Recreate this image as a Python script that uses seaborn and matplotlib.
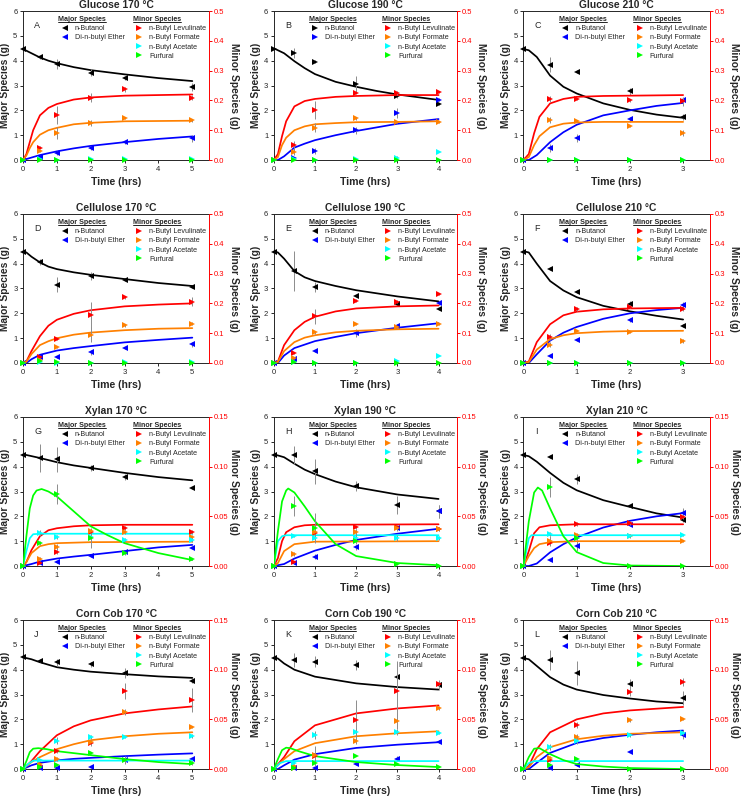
import matplotlib
matplotlib.use("Agg")
import matplotlib.pyplot as plt
from matplotlib.lines import Line2D
from matplotlib.ticker import FormatStrFormatter
import seaborn as sns

# sampling times of the experiments
T5 = [0, 0.5, 1, 2, 3, 5]
T4 = [0, 0.5, 1, 2, 3, 4]
T3 = [0, 0.5, 1, 2, 3]

species = ["bu", "eth", "lev", "form", "ace", "fur"]
names = {"bu": "n-Butanol", "eth": "Di-n-butyl Ether", "lev": "n-Butyl Levulinate",
         "form": "n-Butyl Formate", "ace": "n-Butyl Acetate", "fur": "Furfural"}
colors = {"bu": "black", "eth": "#0000ff", "lev": "#ff0000", "form": "#ff8000",
          "ace": "#00ffff", "fur": "#00ff00"}

# ---- Glucose 170
A_pts = {"bu": [4.47, 4.13, 3.85, 3.52, 3.29, 2.95], "eth": [0, 0.13, 0.3, 0.47, 0.71, 0.87],
         "lev": [0, 0.041, 0.15, 0.209, 0.237, 0.209], "form": [0, 0.03, 0.092, 0.125, 0.142, 0.133],
         "ace": [0, 0.002, 0.001, 0.002, 0.003, 0.002], "fur": [0, 0, 0, 0, 0, 0]}
A_err = {"bu": [0, 0.05, 0.2, 0.15, 0.05, 0.15], "eth": [0, 0.03, 0.08, 0.07, 0.05, 0.15],
         "lev": [0, 0.005, 0.03, 0.015, 0.008, 0.008], "form": [0, 0.004, 0.02, 0.01, 0.004, 0.004]}
A_fit = {"bu": ([0, 0.25, 0.5, 0.75, 1, 1.5, 2, 3, 4, 5], [4.47, 4.3, 4.13, 4.0, 3.9, 3.74, 3.62, 3.45, 3.3, 3.18]),
         "eth": ([0, 0.25, 0.5, 1, 1.5, 2, 3, 4, 5], [0, 0.1, 0.2, 0.35, 0.47, 0.57, 0.72, 0.85, 0.95]),
         "lev": ([0, 0.1, 0.2, 0.3, 0.5, 0.75, 1, 1.5, 2, 3, 5], [0, 0.02, 0.06, 0.1, 0.15, 0.175, 0.188, 0.203, 0.21, 0.216, 0.22]),
         "form": ([0, 0.1, 0.2, 0.3, 0.5, 0.75, 1, 1.5, 2, 3, 5], [0, 0.015, 0.04, 0.06, 0.085, 0.1, 0.108, 0.12, 0.125, 0.13, 0.132])}

# ---- Glucose 190
B_pts = {"bu": [4.47, 4.3, 3.96, 3.05, 2.58, 2.26], "eth": [0, 0.07, 0.38, 1.2, 1.88, 2.43],
         "lev": [0, 0.049, 0.168, 0.226, 0.224, 0.229], "form": [0, 0.026, 0.108, 0.14, 0.128, 0.126],
         "ace": [0, 0.002, 0, 0.003, 0.007, 0.026], "fur": [0, 0, 0, 0, 0, 0]}
B_err = {"bu": [0, 0.2, 0.07, 0.35, 0.1, 0.05], "eth": [0, 0.03, 0.12, 0.15, 0.2, 0.05],
         "lev": [0, 0.015, 0.03, 0.006, 0.006, 0.004], "form": [0, 0.01, 0.015, 0.006, 0.004, 0.003],
         "ace": [0, 0, 0, 0, 0.006, 0]}
B_fit = {"bu": ([0, 0.25, 0.5, 0.75, 1, 1.5, 2, 2.5, 3, 4], [4.5, 4.3, 3.98, 3.7, 3.46, 3.15, 2.95, 2.78, 2.64, 2.42]),
         "eth": ([0, 0.1, 0.25, 0.5, 0.75, 1, 1.5, 2, 3, 4], [0, 0, 0.15, 0.5, 0.66, 0.8, 1.0, 1.17, 1.46, 1.65]),
         "lev": ([0, 0.1, 0.2, 0.3, 0.5, 0.75, 1, 1.5, 2, 3, 4], [0, 0.02, 0.08, 0.13, 0.18, 0.198, 0.205, 0.212, 0.215, 0.218, 0.218]),
         "form": ([0, 0.1, 0.2, 0.3, 0.5, 0.75, 1, 1.5, 2, 3, 4], [0, 0.01, 0.05, 0.075, 0.1, 0.113, 0.12, 0.124, 0.127, 0.128, 0.13])}

# ---- Glucose 210
C_pts = {"bu": [4.47, 3.83, 3.56, 2.77, 1.72], "eth": [0, 0.48, 0.89, 1.65, 2.4],
         "lev": [0, 0.205, 0.205, 0.2, 0.198], "form": [0, 0.133, 0.13, 0.114, 0.09],
         "ace": [0, 0, 0, 0, 0], "fur": [0, 0, 0, 0, 0]}
C_err = {"bu": [0.05, 0.3, 0.05, 0.15, 0.12], "eth": [0, 0.15, 0.15, 0.1, 0.05],
         "lev": [0, 0.01, 0.004, 0.004, 0.015], "form": [0, 0.01, 0.004, 0.004, 0.01]}
C_fit = {"bu": ([0, 0.1, 0.25, 0.5, 0.75, 1, 1.5, 2, 2.5, 3], [4.47, 4.42, 4.15, 3.4, 2.95, 2.68, 2.28, 2.02, 1.83, 1.7]),
         "eth": ([0, 0.1, 0.25, 0.5, 0.75, 1, 1.5, 2, 2.5, 3], [0, 0, 0.2, 0.72, 1.12, 1.42, 1.8, 2.0, 2.18, 2.3]),
         "lev": ([0, 0.1, 0.2, 0.3, 0.5, 0.75, 1, 1.5, 2, 3], [0, 0.02, 0.09, 0.145, 0.19, 0.205, 0.212, 0.215, 0.216, 0.218]),
         "form": ([0, 0.1, 0.2, 0.3, 0.5, 0.75, 1, 1.5, 2, 3], [0, 0.01, 0.05, 0.08, 0.11, 0.122, 0.126, 0.128, 0.128, 0.128])}

# ---- Cellulose 170
D_pts = {"bu": [4.47, 4.06, 3.15, 3.51, 3.36, 3.05], "eth": [0, 0.23, 0.23, 0.44, 0.6, 0.75],
         "lev": [0, 0.021, 0.081, 0.16, 0.221, 0.206], "form": [0, 0.011, 0.054, 0.095, 0.126, 0.132],
         "ace": [0, 0.002, 0.001, 0.001, 0.002, 0.002], "fur": [0, 0.005, 0.002, 0.001, 0, 0]}
D_err = {"bu": [0.05, 0.13, 0.3, 0.15, 0.05, 0.05], "eth": [0, 0.03, 0.04, 0.1, 0.03, 0.1],
         "lev": [0, 0.003, 0.004, 0.045, 0.005, 0.015], "form": [0, 0.002, 0.003, 0.025, 0.004, 0.004]}
D_fit = {"bu": ([0, 0.1, 0.25, 0.5, 0.75, 1, 1.5, 2, 3, 4, 5], [4.5, 4.45, 4.28, 4.05, 3.88, 3.78, 3.65, 3.55, 3.38, 3.22, 3.1]),
         "eth": ([0, 0.1, 0.25, 0.5, 1, 1.5, 2, 3, 4, 5], [0, 0, 0.15, 0.33, 0.5, 0.6, 0.68, 0.83, 0.93, 1.02]),
         "lev": ([0, 0.1, 0.25, 0.5, 0.75, 1, 1.5, 2, 3, 4, 5], [0, 0.005, 0.04, 0.09, 0.125, 0.145, 0.165, 0.177, 0.19, 0.196, 0.2]),
         "form": ([0, 0.1, 0.25, 0.5, 0.75, 1, 1.5, 2, 3, 4, 5], [0, 0.004, 0.03, 0.06, 0.073, 0.083, 0.095, 0.102, 0.11, 0.115, 0.117])}

# ---- Cellulose 190
E_pts = {"bu": [4.47, 3.7, 3.07, 2.69, 2.38, 2.18], "eth": [0, 0.17, 0.47, 1.2, 1.5, 2.4],
         "lev": [0, 0.033, 0.157, 0.209, 0.206, 0.232], "form": [0, 0.016, 0.103, 0.13, 0.12, 0.13],
         "ace": [0, 0.003, 0, 0.001, 0.006, 0.022], "fur": [0, 0.002, 0, 0, 0, 0]}
E_err = {"bu": [0.05, 0.82, 0.2, 0.05, 0.05, 0.05], "eth": [0, 0.03, 0.04, 0.15, 0.05, 0.05],
         "lev": [0, 0.004, 0.025, 0.005, 0.005, 0.004], "form": [0, 0.003, 0.005, 0.003, 0.003, 0.003]}
E_fit = {"bu": ([0, 0.1, 0.25, 0.5, 0.75, 1, 1.5, 2, 3, 4], [4.5, 4.45, 4.2, 3.7, 3.45, 3.3, 3.1, 2.93, 2.68, 2.48]),
         "eth": ([0, 0.1, 0.25, 0.5, 1, 1.5, 2, 3, 4], [0, 0, 0.3, 0.6, 0.88, 1.05, 1.2, 1.42, 1.6]),
         "lev": ([0, 0.1, 0.25, 0.5, 0.75, 1, 1.5, 2, 3, 4], [0, 0.005, 0.06, 0.11, 0.138, 0.155, 0.173, 0.183, 0.19, 0.193]),
         "form": ([0, 0.1, 0.25, 0.5, 0.75, 1, 1.5, 2, 3, 4], [0, 0.003, 0.04, 0.07, 0.085, 0.093, 0.103, 0.108, 0.113, 0.115])}

# ---- Cellulose 210
F_pts = {"bu": [4.47, 3.8, 2.87, 2.36, 1.5], "eth": [0, 0.27, 0.92, 1.73, 2.35],
         "lev": [0, 0.088, 0.181, 0.189, 0.182], "form": [0, 0.061, 0.109, 0.105, 0.073],
         "ace": [0, 0, 0, 0, 0], "fur": [0, 0, 0, 0, 0]}
F_err = {"bu": [0.05, 0.07, 0.06, 0.12, 0.06], "eth": [0, 0.02, 0.04, 0.07, 0.12],
         "lev": [0, 0.01, 0.008, 0.006, 0.006], "form": [0, 0.008, 0.003, 0.003, 0.006]}
F_fit = {"bu": ([0, 0.1, 0.25, 0.5, 0.75, 1, 1.5, 2, 2.5, 3], [4.5, 4.45, 4.0, 3.3, 2.92, 2.65, 2.3, 2.08, 1.9, 1.75]),
         "eth": ([0, 0.1, 0.25, 0.5, 0.75, 1, 1.5, 2, 2.5, 3], [0, 0, 0.35, 0.9, 1.22, 1.45, 1.78, 2.0, 2.13, 2.22]),
         "lev": ([0, 0.1, 0.25, 0.5, 0.75, 1, 1.5, 2, 3], [0, 0.005, 0.07, 0.13, 0.16, 0.172, 0.18, 0.183, 0.185]),
         "form": ([0, 0.1, 0.25, 0.5, 0.75, 1, 1.5, 2, 3], [0, 0.003, 0.045, 0.08, 0.093, 0.1, 0.105, 0.107, 0.108])}

# ---- Xylan 170
G_pts = {"bu": [4.47, 4.35, 4.3, 3.95, 3.6, 3.15], "eth": [0, 0.12, 0.15, 0.41, 0.58, 0.72],
         "lev": [0, 0.0033, 0.0143, 0.0343, 0.0383, 0.0346], "form": [0, 0.0073, 0.019, 0.035, 0.034, 0.0296],
         "ace": [0, 0.0336, 0.0296, 0.0296, 0.0266, 0.026], "fur": [0, 0.0236, 0.0722, 0.0286, 0.0126, 0.007]}
G_err = {"bu": [0.05, 0.55, 0.5, 0.12, 0.12, 0.05], "eth": [0, 0.03, 0.03, 0.04, 0.05, 0.05],
         "lev": [0, 0.001, 0.002, 0.002, 0.002, 0.002], "form": [0, 0.002, 0.003, 0.002, 0.002, 0.002],
         "ace": [0, 0.003, 0.002, 0.002, 0.002, 0.002], "fur": [0, 0.002, 0.01, 0.01, 0.002, 0.001]}
G_fit = {"bu": ([0, 0.5, 1, 1.5, 2, 3, 4, 5], [4.5, 4.35, 4.18, 4.05, 3.95, 3.75, 3.58, 3.45]),
         "eth": ([0, 0.25, 0.5, 1, 1.5, 2, 3, 4, 5], [0, 0.08, 0.18, 0.3, 0.38, 0.45, 0.6, 0.75, 0.85]),
         "lev": ([0, 0.1, 0.25, 0.5, 0.75, 1, 1.5, 2, 3, 5], [0, 0.004, 0.016, 0.03, 0.036, 0.038, 0.04, 0.041, 0.0415, 0.0415]),
         "form": ([0, 0.1, 0.25, 0.5, 0.75, 1, 2, 5], [0, 0.004, 0.013, 0.02, 0.022, 0.023, 0.024, 0.0245]),
         "ace": ([0, 0.1, 0.2, 0.3, 0.5, 5], [0, 0.015, 0.028, 0.032, 0.0325, 0.0325]),
         "fur": ([0, 0.1, 0.2, 0.3, 0.4, 0.55, 0.75, 1, 1.5, 2, 2.5, 3, 4, 5],
                 [0, 0.03, 0.058, 0.071, 0.076, 0.0775, 0.075, 0.07, 0.055, 0.04, 0.031, 0.023, 0.013, 0.006])}

# ---- Xylan 190
H_pts = {"bu": [4.47, 4.47, 3.82, 3.22, 2.45, 2.2], "eth": [0, 0.12, 0.37, 0.76, 1.54, 2.2],
         "lev": [0, 0.0037, 0.0336, 0.039, 0.0396, 0.0376], "form": [0, 0.012, 0.0346, 0.0346, 0.038, 0.0376],
         "ace": [0, 0.0303, 0.0286, 0.0286, 0.0286, 0.0286], "fur": [0, 0.0606, 0.038, 0.025, 0.002, 0.0005]}
H_err = {"bu": [0.05, 0.35, 0.5, 0.2, 0.35, 0.25], "eth": [0, 0.03, 0.1, 0.1, 0.08, 0.25],
         "lev": [0, 0.001, 0.003, 0.002, 0.002, 0.002], "form": [0, 0.002, 0.003, 0.003, 0.003, 0.002],
         "ace": [0, 0.001, 0.003, 0.003, 0.003, 0.002], "fur": [0, 0.01, 0.015, 0.003, 0.001, 0]}
H_fit = {"bu": ([0, 0.25, 0.5, 0.75, 1, 1.5, 2, 3, 4], [4.5, 4.38, 4.12, 3.88, 3.7, 3.4, 3.17, 2.88, 2.7]),
         "eth": ([0, 0.25, 0.5, 1, 1.5, 2, 3, 4], [0, 0.08, 0.3, 0.62, 0.85, 1.05, 1.3, 1.5]),
         "lev": ([0, 0.1, 0.2, 0.3, 0.5, 0.75, 1, 4], [0, 0.008, 0.025, 0.034, 0.039, 0.041, 0.0415, 0.042]),
         "form": ([0, 0.1, 0.25, 0.5, 1, 4], [0, 0.003, 0.015, 0.022, 0.0245, 0.025]),
         "ace": ([0, 0.1, 0.2, 0.3, 4], [0, 0.025, 0.03, 0.031, 0.031]),
         "fur": ([0, 0.1, 0.2, 0.3, 0.35, 0.5, 0.75, 1, 1.5, 2, 3, 4],
                 [0, 0.035, 0.065, 0.076, 0.078, 0.074, 0.06, 0.045, 0.022, 0.01, 0.003, 0.0008])}

# ---- Xylan 210
I_pts = {"bu": [4.47, 4.39, 3.49, 2.42, 1.85], "eth": [0, 0.23, 0.82, 1.65, 2.15],
         "lev": [0, 0.023, 0.042, 0.0433, 0.049], "form": [0, 0.0256, 0.0316, 0.030, 0.025],
         "ace": [0, 0.032, 0.028, 0.0306, 0.031], "fur": [0, 0.0795, 0.0286, 0, 0]}
I_err = {"bu": [0.05, 0.06, 0.2, 0.05, 0.06], "eth": [0, 0.02, 0.2, 0.05, 0.2],
         "lev": [0, 0.002, 0.002, 0.002, 0.002], "form": [0, 0.005, 0.002, 0.002, 0.001],
         "ace": [0, 0.002, 0.002, 0.001, 0.001], "fur": [0, 0.01, 0.002, 0, 0]}
I_fit = {"bu": ([0, 0.1, 0.25, 0.5, 0.75, 1, 1.5, 2, 2.5, 3], [4.47, 4.42, 4.2, 3.75, 3.35, 3.05, 2.65, 2.38, 2.12, 1.95]),
         "eth": ([0, 0.1, 0.25, 0.5, 0.75, 1, 1.5, 2, 2.5, 3], [0, 0, 0.1, 0.55, 0.88, 1.15, 1.55, 1.82, 2.0, 2.13]),
         "lev": ([0, 0.1, 0.2, 0.3, 0.5, 1, 3], [0, 0.015, 0.033, 0.039, 0.041, 0.042, 0.042]),
         "form": ([0, 0.1, 0.2, 0.3, 0.5, 1, 3], [0, 0.01, 0.018, 0.022, 0.024, 0.025, 0.025]),
         "ace": ([0, 0.1, 0.15, 3], [0, 0.028, 0.031, 0.031]),
         "fur": ([0, 0.1, 0.2, 0.27, 0.35, 0.5, 0.75, 1, 1.5, 2, 3],
                 [0, 0.045, 0.074, 0.079, 0.076, 0.058, 0.03, 0.014, 0.003, 0.0005, 0])}

# ---- Corn Cob 170
J_pts = {"bu": [4.5, 4.37, 4.3, 4.22, 3.86, 3.55], "eth": [0, 0.03, 0.05, 0.1, 0.36, 0.39],
         "lev": [0, 0.0033, 0.0184, 0.026, 0.0785, 0.0695], "form": [0, 0.0047, 0.01, 0.027, 0.0575, 0.0421],
         "ace": [0, 0.0087, 0.0287, 0.0324, 0.0324, 0.0337], "fur": [0, 0.002, 0.004, 0.0157, 0.0087, 0.0057]}
J_err = {"bu": [0.05, 0.06, 0.15, 0.1, 0.2, 0.08], "eth": [0, 0.01, 0.01, 0.03, 0.1, 0.05],
         "lev": [0, 0.001, 0.002, 0.003, 0.008, 0.012], "form": [0, 0.001, 0.002, 0.002, 0.003, 0.001],
         "ace": [0, 0.001, 0.004, 0.002, 0.001, 0.002], "fur": [0, 0.001, 0.001, 0.001, 0.004, 0.002]}
J_fit = {"bu": ([0, 0.25, 0.5, 1, 1.5, 2, 3, 4, 5], [4.5, 4.42, 4.3, 4.1, 4.0, 3.92, 3.82, 3.73, 3.67]),
         "eth": ([0, 0.25, 0.5, 1, 1.5, 2, 3, 4, 5], [0, 0.15, 0.25, 0.35, 0.41, 0.45, 0.52, 0.58, 0.63]),
         "lev": ([0, 0.25, 0.5, 1, 1.5, 2, 3, 4, 5], [0, 0.008, 0.018, 0.034, 0.043, 0.049, 0.056, 0.06, 0.063]),
         "form": ([0, 0.25, 0.5, 1, 1.5, 2, 3, 4, 5], [0, 0.007, 0.012, 0.02, 0.025, 0.029, 0.033, 0.0355, 0.037]),
         "ace": ([0, 0.15, 0.3, 5], [0, 0.005, 0.0085, 0.0085]),
         "fur": ([0, 0.1, 0.2, 0.3, 0.45, 0.7, 1, 2, 3, 4, 5],
                 [0, 0.008, 0.017, 0.0205, 0.021, 0.02, 0.018, 0.014, 0.01, 0.007, 0.005])}

# ---- Corn Cob 190
K_pts = {"bu": [4.47, 4.4, 4.32, 4.18, 3.72, 3.4], "eth": [0, 0.03, 0.05, 0.2, 0.42, 1.1],
         "lev": [0, 0.0013, 0.0134, 0.0494, 0.0785, 0.0858], "form": [0, 0.0033, 0.0137, 0.028, 0.048, 0.061],
         "ace": [0, 0.0057, 0.034, 0.0377, 0.0377, 0.0367], "fur": [0, 0.0013, 0.0063, 0.0134, 0.0047, 0.0017]}
K_err = {"bu": [0.05, 0.28, 0.22, 0.2, 0.55, 0.2], "eth": [0, 0.01, 0.02, 0.05, 0.1, 0.06],
         "lev": [0, 0.001, 0.01, 0.02, 0.03, 0.002], "form": [0, 0.001, 0.003, 0.003, 0.008, 0.002],
         "ace": [0, 0.001, 0.004, 0.004, 0.003, 0.001]}
K_fit = {"bu": ([0, 0.1, 0.25, 0.5, 1, 2, 3, 4], [4.5, 4.45, 4.25, 4.0, 3.72, 3.45, 3.3, 3.2]),
         "eth": ([0, 0.1, 0.25, 0.5, 1, 2, 3, 4], [0, 0, 0.15, 0.38, 0.6, 0.85, 0.98, 1.08]),
         "lev": ([0, 0.25, 0.5, 1, 2, 3, 4], [0, 0.012, 0.028, 0.044, 0.056, 0.061, 0.064]),
         "form": ([0, 0.25, 0.5, 1, 2, 3, 4], [0, 0.01, 0.018, 0.026, 0.033, 0.036, 0.038]),
         "ace": ([0, 0.15, 0.3, 4], [0, 0.006, 0.008, 0.008]),
         "fur": ([0, 0.1, 0.2, 0.3, 0.4, 0.6, 1, 2, 3, 4], [0, 0.01, 0.019, 0.0215, 0.021, 0.018, 0.013, 0.007, 0.004, 0.002])}

# ---- Corn Cob 210
L_pts = {"bu": [4.47, 4.38, 3.88, 3.42, 2.87], "eth": [0, 0.03, 0.15, 0.7, 1.39],
         "lev": [0, 0.009, 0.0448, 0.0775, 0.0878], "form": [0, 0.0107, 0.0324, 0.0494, 0.05],
         "ace": [0, 0.0224, 0.0284, 0.0347, 0.0364], "fur": [0, 0.004, 0.0097, 0, 0]}
L_err = {"bu": [0.05, 0.4, 0.48, 0.2, 0.28], "eth": [0, 0.01, 0.03, 0.03, 0.2],
         "lev": [0, 0.002, 0.003, 0.004, 0.004], "form": [0, 0.002, 0.003, 0.002, 0.001],
         "ace": [0, 0.003, 0.003, 0.002, 0.002], "fur": [0, 0.001, 0.001, 0, 0]}
L_fit = {"bu": ([0, 0.1, 0.25, 0.5, 0.75, 1, 1.5, 2, 2.5, 3], [4.47, 4.42, 4.15, 3.7, 3.4, 3.2, 2.98, 2.84, 2.72, 2.65]),
         "eth": ([0, 0.1, 0.25, 0.5, 1, 1.5, 2, 2.5, 3], [0, 0, 0.25, 0.65, 1.05, 1.25, 1.38, 1.48, 1.55]),
         "lev": ([0, 0.1, 0.25, 0.5, 1, 1.5, 2, 3], [0, 0.003, 0.02, 0.037, 0.05, 0.056, 0.059, 0.0625]),
         "form": ([0, 0.1, 0.25, 0.5, 1, 1.5, 2, 3], [0, 0.002, 0.012, 0.022, 0.03, 0.0335, 0.0355, 0.037]),
         "ace": ([0, 0.1, 0.2, 3], [0, 0.006, 0.008, 0.008]),
         "fur": ([0, 0.1, 0.2, 0.3, 0.5, 0.75, 1, 1.5, 2, 3], [0, 0.012, 0.0205, 0.021, 0.015, 0.009, 0.005, 0.0025, 0.001, 0])}

titles = ["Glucose 170 °C", "Glucose 190 °C", "Glucose 210 °C",
          "Cellulose 170 °C", "Cellulose 190 °C", "Cellulose 210 °C",
          "Xylan 170 °C", "Xylan 190 °C", "Xylan 210 °C",
          "Corn Cob 170 °C", "Corn Cob 190 °C", "Corn Cob 210 °C"]
letters = list("ABCDEFGHIJKL")
times = [T5, T4, T3] * 4
pts = [A_pts, B_pts, C_pts, D_pts, E_pts, F_pts, G_pts, H_pts, I_pts, J_pts, K_pts, L_pts]
errs = [A_err, B_err, C_err, D_err, E_err, F_err, G_err, H_err, I_err, J_err, K_err, L_err]
fits = [A_fit, B_fit, C_fit, D_fit, E_fit, F_fit, G_fit, H_fit, I_fit, J_fit, K_fit, L_fit]

sns.set_style("ticks")
plt.rcParams['font.family'] = ['Liberation Sans', 'DejaVu Sans']

fig = plt.figure(figsize=(7.42, 7.99), dpi=100)
col_left = [0.031, 0.369, 0.7055]
col_w = [0.251, 0.247, 0.251]
row_bottom = [0.7997, 0.5457, 0.2916, 0.0375]
row_h = 0.1865
xmax = [5.5, 4.45, 3.5]

legend_titles = []
for i in range(12):
    r, c = i // 3, i % 3
    ax = fig.add_axes([col_left[c], row_bottom[r], col_w[c], row_h])
    ax2 = ax.twinx()
    t = times[i]
    big = r < 2
    major_marker = ">" if i == 1 else "<"

    for key, (ft, fv) in fits[i].items():
        target = ax if key in ("bu", "eth") else ax2
        sns.lineplot(x=ft, y=fv, ax=target, color=colors[key], linewidth=1.25, legend=False)

    for key in species:
        target = ax if key in ("bu", "eth") else ax2
        mk = major_marker if key in ("bu", "eth") else ">"
        e = errs[i].get(key, [0] * len(t))
        target.errorbar(t, pts[i][key], yerr=e, fmt=mk, color=colors[key], ms=3.8, mew=0,
                        ecolor="#8c8c8c", elinewidth=0.7, capsize=1.5, capthick=0.7,
                        clip_on=False, zorder=5)

    ax.set_xlim(0, xmax[c])
    ax.set_ylim(0, 6)
    ax.set_xticks(range(0, int(xmax[c]) + 1))
    ax.set_yticks(range(0, 7))
    if big:
        ax2.set_ylim(0, 0.5)
        ax2.set_yticks([0, 0.1, 0.2, 0.3, 0.4, 0.5])
        ax2.yaxis.set_major_formatter(FormatStrFormatter("%.1f"))
    else:
        ax2.set_ylim(0, 0.15)
        ax2.set_yticks([0, 0.05, 0.10, 0.15])
        ax2.yaxis.set_major_formatter(FormatStrFormatter("%.2f"))

    ax.set_title(titles[i], fontsize=7.4, fontweight="bold", pad=2)
    ax.set_xlabel("Time (hrs)", fontsize=7.6, fontweight="bold", labelpad=3)
    ax.set_ylabel("Major Species (g)", fontsize=7.4, fontweight="bold", labelpad=2)
    ax2.set_ylabel("Minor Species (g)", fontsize=7.4, fontweight="bold", rotation=270,
                   va="bottom", labelpad=3 if big else 0.5)
    ax.tick_params(labelsize=5.5, length=2.5, width=0.7, pad=1.5)
    ax2.tick_params(labelsize=5.5, length=2.2, width=0.7, pad=1.2, colors="#ff0000")
    for s in ax.spines.values():
        s.set_linewidth(0.7)
    ax.spines["right"].set_visible(False)
    ax2.spines["right"].set_color("#ff0000")
    ax2.spines["right"].set_linewidth(0.7)
    for s in ["left", "top", "bottom"]:
        ax2.spines[s].set_visible(False)

    ax.text(0.06, 0.9, letters[i], transform=ax.transAxes, fontsize=6.5, va="center")

    maj = [Line2D([], [], marker=major_marker, color=colors[k], linestyle="none", markersize=3.8, mew=0)
           for k in ("bu", "eth")]
    mino = [Line2D([], [], marker=">", color=colors[k], linestyle="none", markersize=3.8, mew=0)
            for k in ("lev", "form", "ace", "fur")]
    kw = dict(loc="upper left", frameon=False, fontsize=5.1, alignment="left",
              title_fontproperties={"weight": "bold", "size": 5.1}, handlelength=1.8,
              handletextpad=0.5, labelspacing=0.3, borderpad=0, borderaxespad=0, numpoints=1)
    leg1 = ax2.legend(handles=maj, labels=[names["bu"], names["eth"]], title="Major Species",
                      bbox_to_anchor=(0.19, 0.965), **kw)
    ax2.add_artist(leg1)
    leg2 = ax2.legend(handles=mino, labels=[names[k] for k in ("lev", "form", "ace", "fur")],
                      title="Minor Species", bbox_to_anchor=(0.59, 0.965), **kw)
    legend_titles += [leg1.get_title(), leg2.get_title()]

# underline the legend headers
fig.canvas.draw()
renderer = fig.canvas.get_renderer()
inv = fig.transFigure.inverted()
for txt in legend_titles:
    bb = txt.get_window_extent(renderer)
    (x0, y0), (x1, _) = inv.transform([(bb.x0, bb.y0 + 1), (bb.x1, bb.y0 + 1)])
    fig.add_artist(Line2D([x0, x1], [y0, y0], color="black", lw=0.6, transform=fig.transFigure))

fig.savefig("out.png", dpi=100)
